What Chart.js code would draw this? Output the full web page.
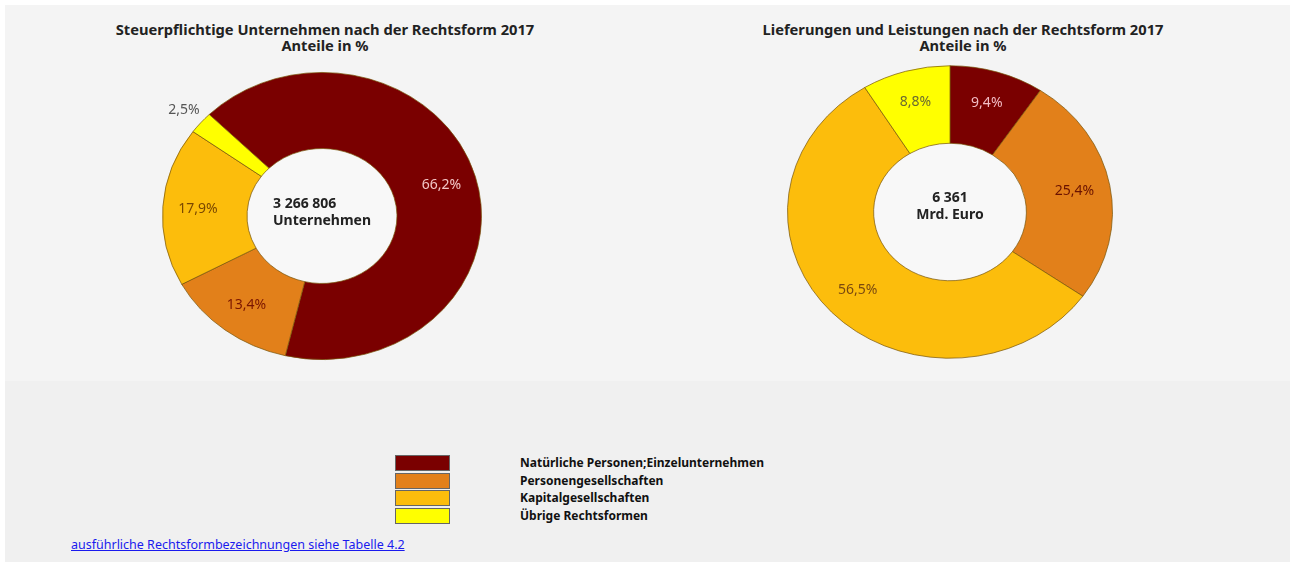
<!DOCTYPE html>
<html lang="de">
<head>
<meta charset="utf-8">
<title>Rechtsformen 2017</title>
<script src="https://cdn.jsdelivr.net/npm/chart.js@4"></script>
<style>
    body { margin: 0; background: #ffffff; font-family: "Noto Sans", sans-serif; }
    #page { position: relative; width: 1295px; height: 562px; }
    #panel { position: absolute; left: 5px; top: 5px; width: 1285px; height: 557px; background: #f0f0f0; }
    #imgArea { position: absolute; left: 5px; top: 5px; width: 1285px; height: 376px; background: #f4f4f4; }
    .title { position: absolute; top: 21px; width: 500px; text-align: center; font-weight: bold; font-size: 14.7px; line-height: 16px; color: #222; }
    canvas { position: absolute; }
    #legend { position: absolute; left: 395px; top: 455px; }
    .legRow { position: relative; height: 17.5px; }
    .legBox { position: absolute; left: 0; top: 0; width: 53px; height: 14px; border: 1px solid #666; }
    .legText { position: absolute; left: 125px; top: -1px; white-space: nowrap; font-weight: bold; font-size: 12px; color: #111; }
    #link { position: absolute; left: 71px; top: 536px; font-size: 12.5px; color: #1a1aee; text-decoration: underline; }
</style>
</head>
<body>
<div id="page">
    <div id="panel"></div>
    <div id="imgArea"></div>
    <div class="title" style="left:75px">Steuerpflichtige Unternehmen nach der Rechtsform 2017<br>Anteile in %</div>
    <div class="title" style="left:713px">Lieferungen und Leistungen nach der Rechtsform 2017<br>Anteile in %</div>
    <canvas id="chartLeft" width="340" height="340" style="left:152px; top:46px; width:340px; height:340px"></canvas>
    <canvas id="chartRight" width="346" height="346" style="left:777px; top:39px; width:346px; height:346px"></canvas>
    <div id="legend"></div>
    <div id="link">ausführliche Rechtsformbezeichnungen siehe Tabelle 4.2</div>
</div>

<script>
// ===============================
// DATA
// ===============================
const categories = [
    "Natürliche Personen;Einzelunternehmen",
    "Personengesellschaften",
    "Kapitalgesellschaften",
    "Übrige Rechtsformen"
];

const unternehmenShares = [66.2, 13.4, 17.9, 2.5];   // Anteile in %
const lieferungenShares = [9.4, 25.4, 56.5, 8.8];    // Anteile in %

const sliceColors = ["#7a0000", "#e2801a", "#fcbd0c", "#ffff00"];
const labelColorsLeft = ["#f3c6c6", "#7a1500", "#7a4800", "#555555"];
const labelColorsRight = ["#f2bcc4", "#6a1200", "#7a4a10", "#6a6a30"];

const centerLeft = ["3 266 806", "Unternehmen"];
const centerRight = ["6 361", "Mrd. Euro"];

const SQUASH = 0.9; // the original rings are a bit flattened

function fmt(v) {
    return v.toFixed(1).replace(".", ",") + "%";
}

// ===============================
// PLUGIN: flatten ring + labels + center text
// ===============================
const ringPlugin = {
    id: "ring",
    beforeDatasetsDraw(chart) {
        const ctx = chart.ctx;
        const arc = chart.getDatasetMeta(0).data[0];
        ctx.save();
        ctx.translate(arc.x, arc.y);
        ctx.scale(1, SQUASH);
        ctx.translate(-arc.x, -arc.y);
        // light hole
        ctx.beginPath();
        ctx.arc(arc.x, arc.y, arc.innerRadius, 0, Math.PI * 2);
        ctx.fillStyle = "#f8f8f8";
        ctx.fill();
    },
    afterDatasetsDraw(chart, args, opts) {
        const ctx = chart.ctx;
        ctx.restore();

        const arcs = chart.getDatasetMeta(0).data;
        const values = chart.data.datasets[0].data;

        ctx.save();
        ctx.font = "14px 'Noto Sans', sans-serif";
        ctx.textAlign = "center";
        ctx.textBaseline = "middle";
        arcs.forEach((a, i) => {
            const mid = (a.startAngle + a.endAngle) / 2;
            let r = (a.innerRadius + a.outerRadius) / 2 * 1.06;
            if (opts.outside && opts.outside.includes(i)) r = a.outerRadius + 22;
            const x = a.x + Math.cos(mid) * r;
            const y = a.y + Math.sin(mid) * r * SQUASH;
            ctx.fillStyle = opts.labelColors[i];
            ctx.fillText(fmt(values[i]), x, y);
        });

        // center text
        const c = arcs[0];
        ctx.font = "bold 14px 'Noto Sans', sans-serif";
        ctx.fillStyle = "#222";
        ctx.textAlign = opts.centerAlign || "center";
        const cx = c.x + (opts.centerDx || 0);
        opts.center.forEach((t, i) => {
            ctx.fillText(t, cx, c.y + opts.centerDy + i * 17);
        });
        ctx.restore();
    }
};

function makeDonut(id, values, rotation, pluginOpts) {
    const el = document.getElementById(id);
    return new Chart(el, {
        type: "doughnut",
        data: {
            labels: categories,
            datasets: [{
                data: values,
                backgroundColor: sliceColors,
                borderColor: "rgba(120, 85, 10, 0.75)",
                borderWidth: 1
            }]
        },
        options: {
            responsive: false,
            animation: false,
            rotation: rotation,
            cutout: "47%",
            layout: { padding: 10 },
            plugins: {
                legend: { display: false },
                tooltip: { enabled: false },
                ring: pluginOpts
            }
        },
        plugins: [ringPlugin]
    });
}

makeDonut("chartLeft", unternehmenShares, -45, {
    labelColors: labelColorsLeft,
    outside: [3],
    center: centerLeft,
    centerAlign: "left",
    centerDx: -49,
    centerDy: -12
});

makeDonut("chartRight", lieferungenShares, 0, {
    labelColors: labelColorsRight,
    outside: [],
    center: centerRight,
    centerAlign: "center",
    centerDx: 0,
    centerDy: -14
});

// ===============================
// LEGEND (shared)
// ===============================
const legend = document.getElementById("legend");
categories.forEach((name, i) => {
    const row = document.createElement("div");
    row.className = "legRow";
    row.innerHTML = `<div class="legBox" style="background:${sliceColors[i]}"></div>
                     <div class="legText">${name}</div>`;
    legend.appendChild(row);
});
</script>
</body>
</html>
